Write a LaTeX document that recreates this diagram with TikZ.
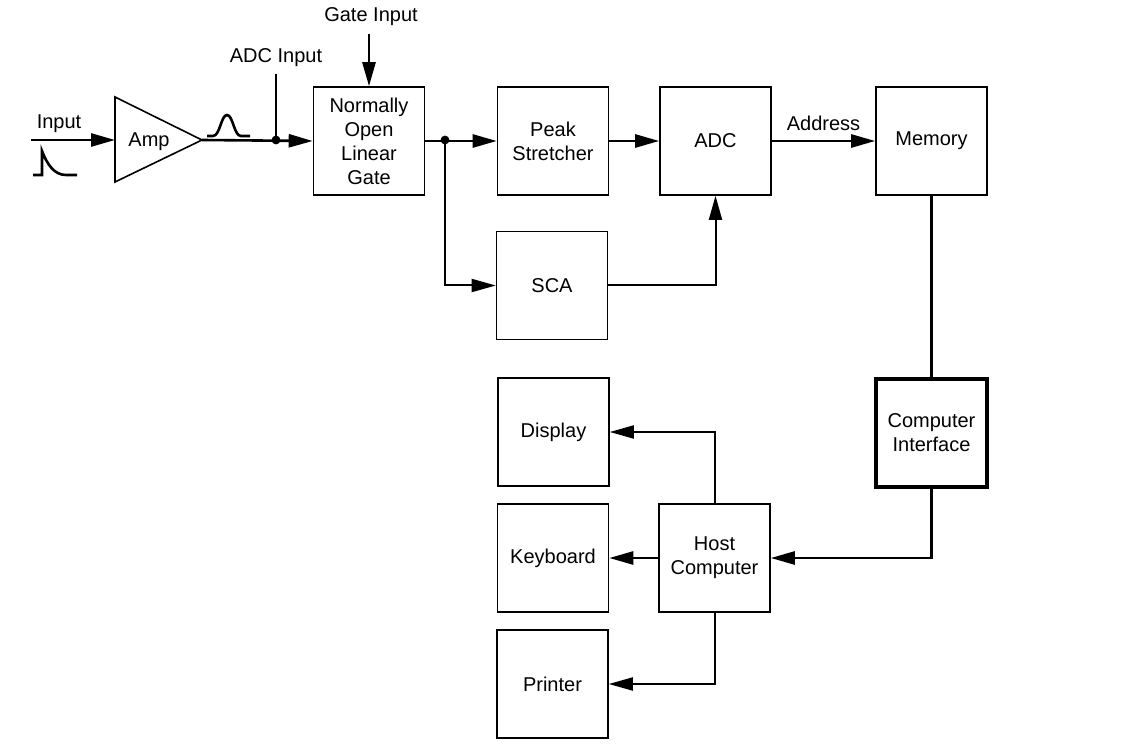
\documentclass[tikz,border=0pt]{standalone}
\usepackage{fontspec}
\setmainfont{Liberation Sans}
\usetikzlibrary{arrows.meta}

\tikzset{
  block/.style={draw, line width=0.8pt, minimum width=55.5pt, minimum height=54pt,
                align=center, inner sep=1pt},
  wire/.style={line width=1.3pt},
  thinwire/.style={line width=1pt},
  >={Triangle[length=12pt,width=6.5pt]}
}

\begin{document}
\begin{tikzpicture}[x=0.5pt, y=-0.5pt, font=\fontsize{10}{12}\selectfont]

  \useasboundingbox (0,0) rectangle (1137,749);

  % amplifier
  \draw[line width=0.8pt] (115,97) -- (202,140) -- (115,182) -- cycle;
  \coordinate (ampin) at (115,140);
  \coordinate (ampout) at (202,140);
  \node (amp) at (149,142) {Amp};

  % input with its pulse
  \coordinate (in) at (31,140);
  \draw[wire, ->] (in) -- (ampin);
  \node (inlabel) at (59,124) {Input};
  \draw[wire] (33,175) -- (42,175) -- (42,151)
        .. controls (47,164) and (54,175) .. (66,175) -- (77,175);

  % shaped pulse after the amplifier
  \draw[wire] (207,136) -- (213,136)
        .. controls (220,136) and (221,115) .. (227,115)
        .. controls (233,115) and (234,136) .. (241,136) -- (250,136);

  % blocks
  \node[block] (gate) at (369,141) {Normally\\Open\\Linear\\Gate};
  \node[block] (peak) at (553,141) {Peak\\Stretcher};
  \node[block] (adc)  at (715.5,141) {ADC};
  \node[block] (mem)  at (931.5,141) {Memory};
  \node[block] (sca)  at (552,285.5) {SCA};
  \node[block, line width=1.6pt] (ci) at (931.5,433) {Computer\\Interface};
  \node[block] (disp) at (553.5,432) {Display};
  \node[block] (key)  at (553,558) {Keyboard};
  \node[block] (prn)  at (552.5,684) {Printer};
  \node[block] (host) at (714.5,558) {Host\\Computer};

  % ADC input tap
  \coordinate (tap) at (276,140);
  \coordinate (adcin) at (276,74);
  \draw[wire, ->] (ampout) -- (gate.west);
  \draw[wire] (adcin) -- (tap);
  \fill (tap) circle (2.2pt);
  \node (adcinlabel) at (276,58) {ADC Input};

  % gate input
  \coordinate (gatein) at (369,34);
  \draw[wire, ->] (gatein) -- (gate.north);
  \node (gateinlabel) at (371,17) {Gate Input};

  % main chain
  \coordinate (split) at (445,140);
  \draw[wire, ->] (gate.east) -- (peak.west);
  \fill (split) circle (2.2pt);
  \draw[thinwire, ->] (split) |- (sca.west);
  \draw[wire, ->] (peak.east) -- (adc.west);
  \draw[wire, ->] (adc.east) -- (mem.west)
        node[midway, above=1pt] (addr) {Address};
  \draw[thinwire, ->] (sca.east) -| (adc.south);

  % computer side
  \draw[wire] (mem.south) -- (ci.north);
  \draw[wire, ->] (ci.south) |- (host.east);
  \draw[thinwire, ->] (host.north) |- (disp.east);
  \draw[wire, ->] (host.west) -- (key.east);
  \draw[thinwire, ->] (host.south) |- (prn.east);

\end{tikzpicture}
\end{document}
